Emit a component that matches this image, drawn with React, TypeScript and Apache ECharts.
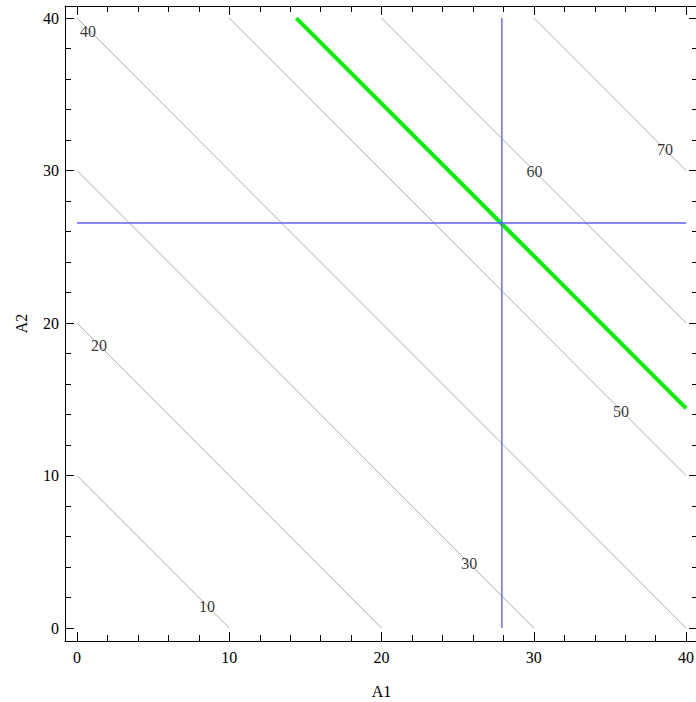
import React, { useEffect, useRef } from "react";
import * as echarts from "echarts";

// contour levels of A1 + A2
const contourLevels = [10, 20, 30, 40, 50, 60, 70];
// contour label positions [A1, A2, level]
const contourLabels: [number, number, number][] = [
  [8.54, 1.38, 10],
  [1.44, 18.56, 20],
  [25.75, 4.23, 30],
  [0.72, 39.1, 40],
  [35.73, 14.23, 50],
  [30.05, 29.97, 60],
  [38.62, 31.38, 70],
];
const greenLevel = 54.4;
const crossA1 = 27.9;
const crossA2 = 26.56;
const majorTicks = [0, 10, 20, 30, 40];
const minorTicks = [2, 4, 6, 8, 12, 14, 16, 18, 22, 24, 26, 28, 32, 34, 36, 38];
const domainMax = 40;

const FONT = "Liberation Serif";

function segmentFor(c: number): number[][] {
  if (c <= domainMax) return [[0, c], [c, 0]];
  return [[c - domainMax, domainMax], [domainMax, c - domainMax]];
}

export default function App() {
  const ref = useRef<HTMLDivElement>(null);
  useEffect(() => {
    if (!ref.current) return;
    const chart = echarts.init(ref.current, null, { renderer: "svg" });
    const xMin = -0.79, xMax = 40.78, yMin = -0.85, yMax = 40.79;
    const labelStyle = { fontFamily: FONT, fontSize: 16, color: "#000" };
    const mkAxis = (
      kind: "x" | "y",
      position: string,
      values: number[],
      len: number,
      showLine: boolean,
      showLabels: boolean,
      name?: string
    ): any => ({
      type: "value",
      position,
      min: kind === "x" ? xMin : yMin,
      max: kind === "x" ? xMax : yMax,
      name: name || "",
      nameLocation: "middle",
      nameGap: kind === "x" ? 42 : 36,
      nameTextStyle: labelStyle,
      axisLine: { show: showLine, onZero: false, lineStyle: { color: "#000", width: 1 } },
      axisTick: {
        show: true,
        inside: true,
        length: len,
        customValues: values,
        lineStyle: { color: "#000", width: 1 },
      },
      axisLabel: {
        show: showLabels,
        customValues: values,
        margin: kind === "x" ? 8 : 6,
        ...labelStyle,
      },
      splitLine: { show: false },
    });
    const series: any[] = contourLevels.map((c) => ({
      type: "line",
      data: segmentFor(c),
      symbol: "none",
      silent: true,
      lineStyle: { color: "#999", width: 0.8 },
      z: 2,
    }));
    series.push({
      type: "line",
      data: segmentFor(greenLevel),
      symbol: "none",
      lineStyle: { color: "#00f000", width: 4 },
      z: 3,
    });
    series.push({
      type: "line",
      data: [[crossA1, 0], [crossA1, domainMax]],
      symbol: "none",
      lineStyle: { color: "#6262ff", width: 1.4 },
      z: 4,
    });
    series.push({
      type: "line",
      data: [[0, crossA2], [domainMax, crossA2]],
      symbol: "none",
      lineStyle: { color: "#6262ff", width: 1.4 },
      z: 4,
    });
    series.push({
      type: "scatter",
      data: contourLabels,
      symbolSize: 0,
      z: 5,
      label: {
        show: true,
        position: "inside",
        formatter: (p: any) => String(p.value[2]),
        ...labelStyle,
      },
    });
    chart.setOption({
      animation: false,
      grid: { left: 65, top: 6, width: 633, height: 635, containLabel: false, outerBoundsMode: "none" },
      xAxis: [
        mkAxis("x", "bottom", majorTicks, 9, true, true, "A1"),
        mkAxis("x", "bottom", minorTicks, 6, false, false),
        mkAxis("x", "top", majorTicks, 9, true, false),
        mkAxis("x", "top", minorTicks, 6, false, false),
      ],
      yAxis: [
        mkAxis("y", "left", majorTicks, 9, true, true, "A2"),
        mkAxis("y", "left", minorTicks, 6, false, false),
        mkAxis("y", "right", majorTicks, 9, true, false),
        mkAxis("y", "right", minorTicks, 6, false, false),
      ],
      series,
    });
    return () => chart.dispose();
  }, []);
  return (
    <div
      ref={ref}
      style={{ position: "absolute", left: 0, top: 0, width: 696, height: 702 }}
    />
  );
}
